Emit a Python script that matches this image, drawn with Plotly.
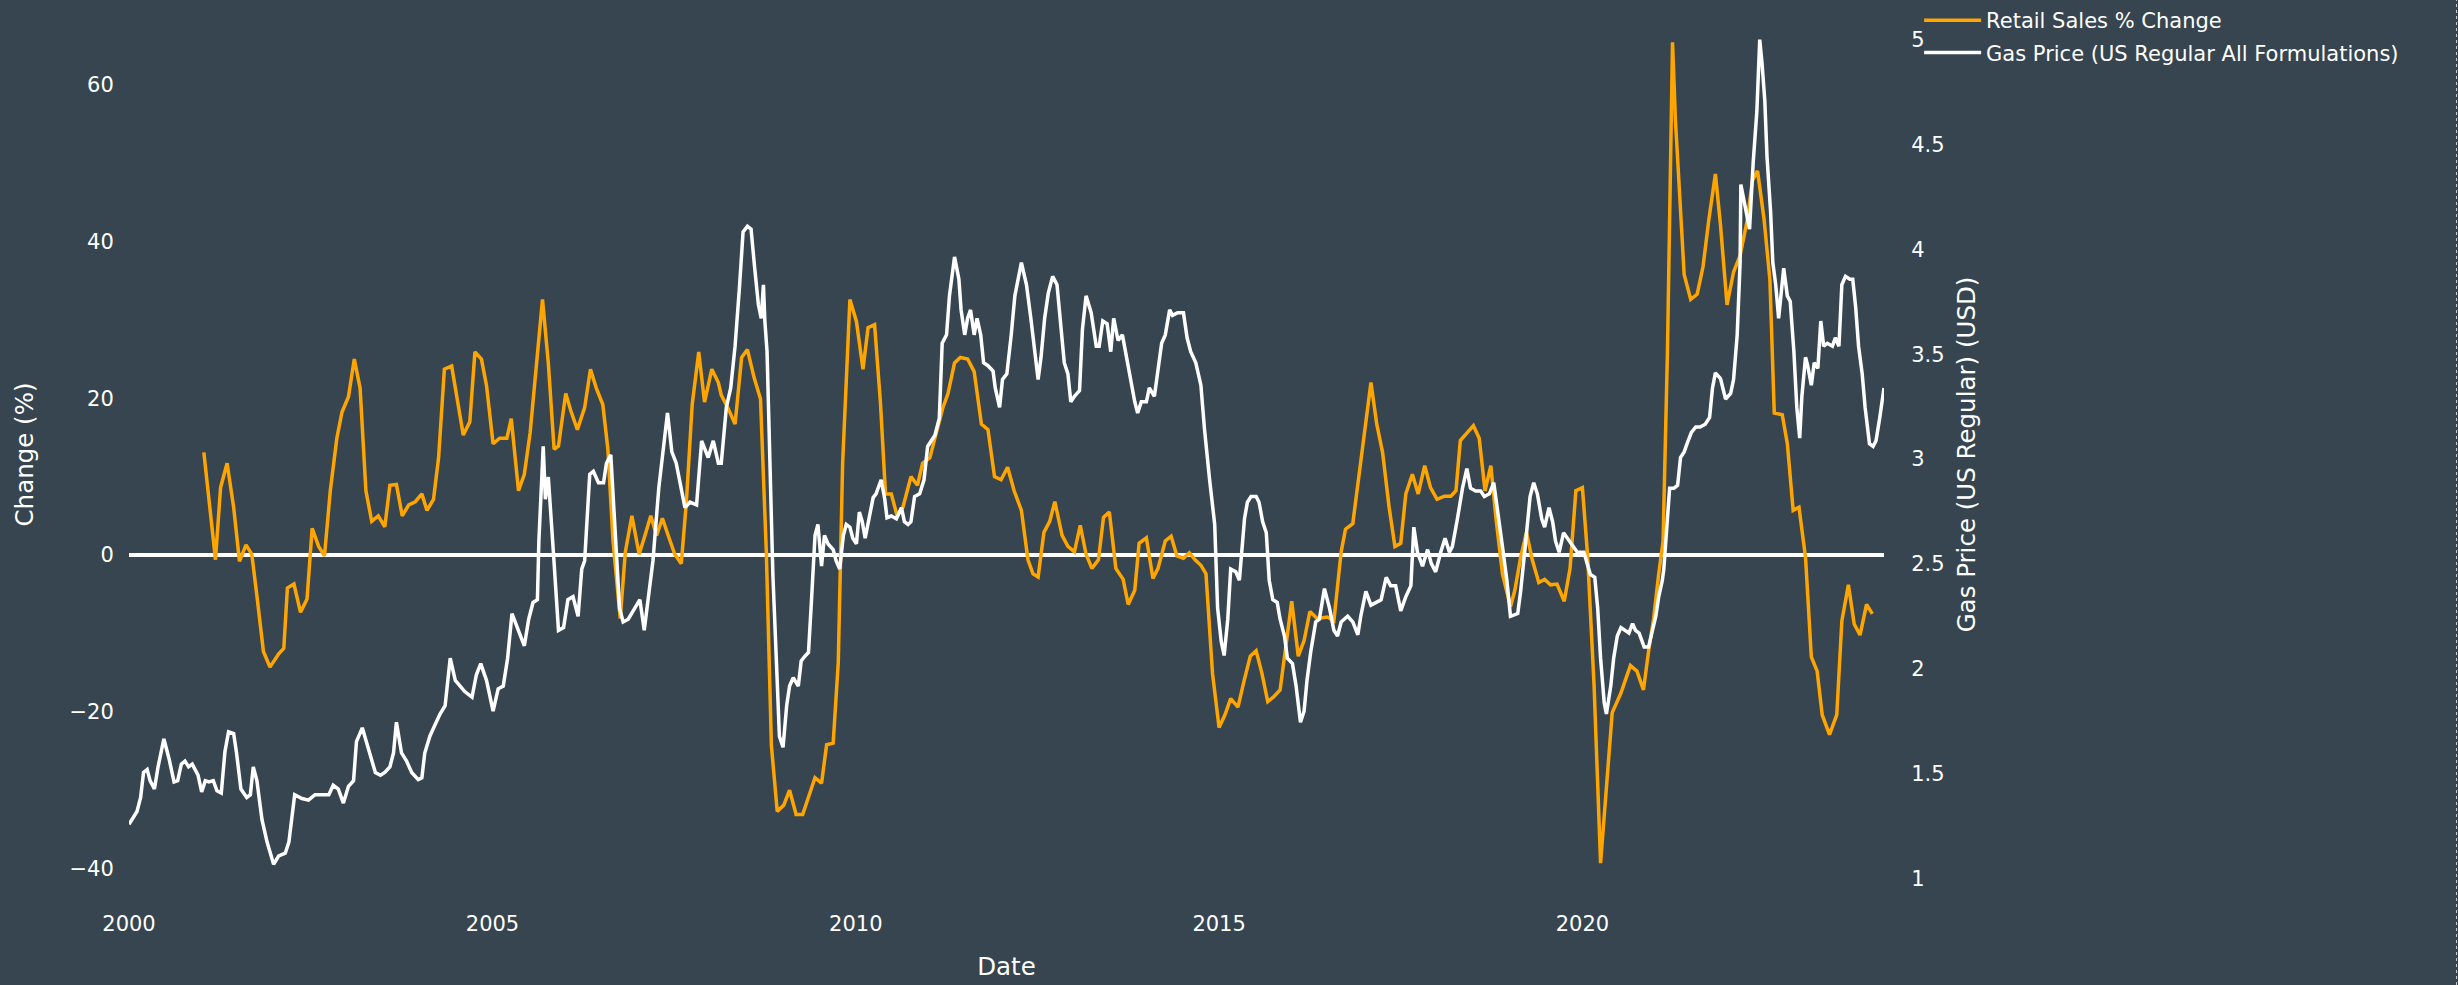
import pandas as pd
import plotly.graph_objects as go

# ---------------- data ----------------
retail_year = [
    2001.03, 2001.19, 2001.26, 2001.35, 2001.44, 2001.52, 2001.61, 2001.69, 2001.76, 2001.85, 2001.94,
    2002.06, 2002.13, 2002.18, 2002.27, 2002.36, 2002.45, 2002.52, 2002.61, 2002.69, 2002.77, 2002.86, 2002.93,
    2003.02, 2003.10, 2003.18, 2003.26, 2003.34, 2003.43, 2003.52, 2003.59, 2003.68, 2003.76, 2003.85, 2003.94,
    2004.03, 2004.10, 2004.19, 2004.26, 2004.34, 2004.44, 2004.52, 2004.60, 2004.69, 2004.76, 2004.85, 2004.92,
    2005.01, 2005.10, 2005.20, 2005.26, 2005.36, 2005.44, 2005.52, 2005.61, 2005.69, 2005.77, 2005.85, 2005.91,
    2006.01, 2006.08, 2006.17, 2006.27, 2006.35, 2006.43, 2006.52, 2006.59, 2006.66, 2006.76, 2006.83, 2006.92,
    2007.02, 2007.10, 2007.18, 2007.26, 2007.34, 2007.42, 2007.51, 2007.60, 2007.67, 2007.75, 2007.84, 2007.92,
    2008.02, 2008.11, 2008.15, 2008.24, 2008.34, 2008.43, 2008.51, 2008.60, 2008.69, 2008.77, 2008.84, 2008.92,
    2009.01, 2009.09, 2009.18, 2009.27, 2009.35, 2009.44, 2009.53, 2009.60, 2009.69, 2009.76, 2009.82, 2009.92,
    2010.01, 2010.10, 2010.17, 2010.26, 2010.34, 2010.41, 2010.49, 2010.57, 2010.65, 2010.76, 2010.85, 2010.92,
    2011.02, 2011.11, 2011.20, 2011.27, 2011.36, 2011.44, 2011.54, 2011.63, 2011.73, 2011.82, 2011.91,
    2012.00, 2012.09, 2012.18, 2012.28, 2012.37, 2012.44, 2012.51, 2012.59, 2012.67, 2012.74, 2012.84, 2012.92,
    2013.01, 2013.09, 2013.17, 2013.25, 2013.34, 2013.41, 2013.49, 2013.58, 2013.68, 2013.75, 2013.84, 2013.90,
    2014.00, 2014.09, 2014.16, 2014.26, 2014.34, 2014.42, 2014.51, 2014.59, 2014.67, 2014.75, 2014.82, 2014.91,
    2015.00, 2015.08, 2015.16, 2015.26, 2015.34, 2015.43, 2015.51, 2015.59, 2015.67, 2015.75, 2015.84, 2015.92,
    2016.00, 2016.09, 2016.17, 2016.25, 2016.35, 2016.49, 2016.58, 2016.68, 2016.74, 2016.84, 2016.91,
    2017.00, 2017.09, 2017.17, 2017.25, 2017.34, 2017.42, 2017.50, 2017.57, 2017.66, 2017.74, 2017.83, 2017.91,
    2018.00, 2018.10, 2018.19, 2018.26, 2018.32, 2018.42, 2018.50, 2018.58, 2018.66, 2018.74, 2018.81, 2018.90,
    2019.01, 2019.07, 2019.15, 2019.23, 2019.31, 2019.40, 2019.48, 2019.56, 2019.65, 2019.75, 2019.83, 2019.91,
    2020.00, 2020.07, 2020.16, 2020.25, 2020.32, 2020.41, 2020.53, 2020.66, 2020.75, 2020.84, 2020.91, 2020.98,
    2021.05, 2021.11, 2021.17, 2021.24, 2021.28, 2021.33, 2021.40, 2021.49, 2021.58, 2021.66, 2021.74, 2021.83,
    2021.90, 2021.99, 2022.08, 2022.17, 2022.27, 2022.34, 2022.41, 2022.50, 2022.58, 2022.64, 2022.75, 2022.82,
    2022.90, 2022.98, 2023.07, 2023.15, 2023.23, 2023.30, 2023.40, 2023.50, 2023.57, 2023.66, 2023.74, 2023.82,
    2023.91, 2023.99,
]
retail_change = [
    13.1, -0.6, 8.6, 11.7, 6.1, -0.8, 1.3, 0.1, -5.2, -12.3, -14.3,
    -12.6, -11.9, -4.2, -3.7, -7.3, -5.6, 3.4, 1.1, -0.1, 8.2, 14.9, 18.2,
    20.2, 25.0, 21.3, 8.2, 4.3, 5.0, 3.6, 8.9, 9.0, 5.0, 6.4, 6.8,
    7.8, 5.7, 7.1, 12.4, 23.7, 24.1, 19.5, 15.3, 17.0, 25.9, 25.0, 21.6,
    14.2, 14.9, 14.9, 17.4, 8.2, 10.3, 15.6, 25.2, 32.6, 24.5, 13.5, 13.9,
    20.6, 18.4, 16.0, 18.8, 23.7, 21.3, 19.2, 13.5, 1.8, -8.1, 0.4, 5.0,
    0.1, 2.5, 5.0, 2.5, 4.7, 2.5, 0.1, -1.1, 6.8, 19.2, 25.9, 19.5,
    23.7, 22.0, 20.4, 18.8, 16.7, 25.2, 26.2, 22.7, 19.9, 0.4, -24.3, -32.7,
    -31.9, -30.0, -33.1, -33.1, -31.0, -28.4, -29.1, -24.2, -24.0, -13.7, 11.7, 32.6,
    29.8, 23.7, 29.0, 29.4, 19.5, 7.8, 7.8, 5.0, 6.1, 10.0, 8.9, 11.7,
    12.4, 15.6, 18.8, 20.6, 24.5, 25.2, 25.0, 23.4, 16.7, 16.0, 10.0,
    9.6, 11.2, 8.2, 5.7, -0.6, -2.4, -2.8, 2.9, 4.3, 6.8, 2.5, 1.1,
    0.4, 3.8, 0.1, -1.7, -0.6, 4.8, 5.5, -1.7, -3.1, -6.3, -4.5, 1.5,
    2.2, -3.0, -1.7, 1.8, 2.4, -0.1, -0.4, 0.3, -0.6, -1.3, -2.4, -15.1,
    -22.0, -20.4, -18.3, -19.4, -16.2, -12.9, -12.2, -15.1, -18.7, -18.1, -17.2, -11.2,
    -5.9, -12.9, -10.9, -7.2, -8.1, -7.9, -8.4, 0.4, 3.3, 4.0, 8.9,
    16.0, 22.0, 16.7, 13.1, 6.1, 1.1, 1.5, 7.8, 10.3, 7.8, 11.4, 8.6,
    7.1, 7.5, 7.5, 8.2, 14.6, 15.6, 16.5, 14.9, 8.2, 11.4, 4.7, -2.4,
    -6.6, -4.5, -0.3, 2.9, -0.6, -3.5, -3.1, -3.8, -3.7, -5.9, -1.7, 8.2,
    8.6, 0.1, -16.5, -39.3, -30.7, -20.1, -17.6, -14.1, -14.8, -17.2, -12.3, -8.1,
    -2.4, 1.8, 25.9, 65.4, 55.5, 47.7, 35.8, 32.6, 33.3, 36.8, 42.8, 48.6,
    42.1, 31.9, 36.1, 38.2, 42.8, 47.8, 49.0, 42.8, 35.1, 18.1, 17.9, 14.2,
    5.7, 6.1, -0.3, -13.0, -14.8, -20.4, -22.9, -20.4, -8.4, -3.8, -8.8, -10.2,
    -6.3, -7.5,
]

gas_year = [
    2000.00, 2000.11, 2000.16, 2000.20, 2000.25, 2000.29, 2000.35, 2000.40, 2000.48, 2000.55, 2000.62, 2000.67,
    2000.72, 2000.77, 2000.82, 2000.87, 2000.95, 2001.00, 2001.05, 2001.10, 2001.16, 2001.21, 2001.27, 2001.32,
    2001.37, 2001.44, 2001.48, 2001.54, 2001.62, 2001.67, 2001.71, 2001.76, 2001.83, 2001.90, 2001.99, 2002.06,
    2002.15, 2002.20, 2002.28, 2002.38, 2002.47, 2002.56, 2002.65, 2002.75, 2002.81, 2002.88, 2002.95, 2003.02,
    2003.09, 2003.13, 2003.21, 2003.30, 2003.39, 2003.46, 2003.52, 2003.59, 2003.64, 2003.68, 2003.75, 2003.82,
    2003.89, 2003.98,
    2004.03, 2004.07, 2004.14, 2004.21, 2004.28, 2004.35, 2004.42, 2004.49, 2004.56, 2004.62, 2004.72, 2004.78,
    2004.84, 2004.92, 2005.01, 2005.08, 2005.15, 2005.21, 2005.27, 2005.36, 2005.44, 2005.50, 2005.56, 2005.62,
    2005.64, 2005.70, 2005.73, 2005.77, 2005.79, 2005.84, 2005.91, 2005.98, 2006.04, 2006.11, 2006.18, 2006.23,
    2006.27, 2006.34, 2006.39, 2006.46, 2006.53, 2006.57, 2006.63, 2006.69, 2006.75, 2006.80, 2006.87, 2006.96,
    2007.03, 2007.09, 2007.14, 2007.21, 2007.29, 2007.35, 2007.41, 2007.47, 2007.53, 2007.59, 2007.65, 2007.72,
    2007.81, 2007.88, 2007.97, 2008.04, 2008.11,
    2008.15, 2008.22, 2008.28, 2008.34, 2008.40, 2008.45, 2008.51, 2008.56, 2008.61, 2008.66, 2008.70, 2008.73,
    2008.75, 2008.78, 2008.82, 2008.86, 2008.91, 2008.95, 2009.00, 2009.05, 2009.09, 2009.14, 2009.21, 2009.25,
    2009.31, 2009.35, 2009.39, 2009.44, 2009.48, 2009.53, 2009.57, 2009.62, 2009.69, 2009.73, 2009.78, 2009.83,
    2009.87, 2009.92, 2009.96, 2010.01, 2010.05, 2010.09, 2010.13, 2010.18, 2010.24, 2010.28, 2010.35, 2010.40,
    2010.43, 2010.49, 2010.56, 2010.63, 2010.67, 2010.72, 2010.76, 2010.81, 2010.88, 2010.94, 2010.99, 2011.04,
    2011.09, 2011.15, 2011.19, 2011.25, 2011.29, 2011.36, 2011.42, 2011.45, 2011.50, 2011.54, 2011.58, 2011.63,
    2011.67, 2011.72, 2011.76, 2011.82, 2011.89, 2011.92, 2011.98, 2012.02, 2012.08, 2012.14, 2012.19,
    2012.28, 2012.35, 2012.41, 2012.48, 2012.51, 2012.55, 2012.60, 2012.65, 2012.71, 2012.77, 2012.83, 2012.87,
    2012.92, 2012.96, 2013.01, 2013.08, 2013.12, 2013.17, 2013.24, 2013.31, 2013.35, 2013.40, 2013.46, 2013.51,
    2013.55, 2013.61, 2013.67, 2013.74, 2013.79, 2013.84, 2013.88, 2013.93, 2014.00, 2014.04, 2014.11, 2014.17,
    2014.21, 2014.26, 2014.32, 2014.36, 2014.43, 2014.51, 2014.56, 2014.61, 2014.68, 2014.75, 2014.80, 2014.87,
    2014.94, 2014.98, 2015.03, 2015.07, 2015.12, 2015.16, 2015.23, 2015.28, 2015.35, 2015.39, 2015.44, 2015.51,
    2015.55, 2015.60, 2015.65, 2015.69, 2015.74, 2015.80, 2015.84, 2015.90, 2015.94, 2016.01, 2016.06, 2016.12,
    2016.17, 2016.21, 2016.26, 2016.33, 2016.38,
    2016.45, 2016.52, 2016.58, 2016.63, 2016.68, 2016.77, 2016.84, 2016.91, 2016.95, 2017.02, 2017.09, 2017.16,
    2017.23, 2017.30, 2017.36, 2017.43, 2017.50, 2017.57, 2017.64, 2017.68, 2017.73, 2017.80, 2017.87, 2017.92,
    2017.98, 2018.05, 2018.11, 2018.17, 2018.21, 2018.28, 2018.35, 2018.41, 2018.46, 2018.53, 2018.60, 2018.65,
    2018.72, 2018.78, 2018.83, 2018.90, 2018.96, 2019.01, 2019.11, 2019.15, 2019.22, 2019.28, 2019.33, 2019.38,
    2019.44, 2019.48, 2019.54, 2019.59, 2019.63, 2019.68, 2019.74, 2019.82, 2019.88, 2019.93, 2020.02, 2020.07,
    2020.11, 2020.17, 2020.21, 2020.25, 2020.30, 2020.33, 2020.39, 2020.43, 2020.48,
    2020.53, 2020.59, 2020.64, 2020.69, 2020.73, 2020.78, 2020.85, 2020.91, 2020.96, 2021.01, 2021.05, 2021.10,
    2021.12, 2021.17, 2021.20, 2021.26, 2021.31, 2021.35, 2021.40, 2021.44, 2021.50, 2021.56, 2021.62, 2021.69,
    2021.75, 2021.79, 2021.83, 2021.90, 2021.97, 2022.04, 2022.08, 2022.13, 2022.17, 2022.18, 2022.23, 2022.27,
    2022.30, 2022.35, 2022.40, 2022.44, 2022.47, 2022.51, 2022.54, 2022.59, 2022.62, 2022.66, 2022.70, 2022.73,
    2022.77, 2022.82, 2022.86, 2022.91, 2022.95, 2022.99, 2023.02, 2023.07, 2023.10, 2023.15, 2023.19, 2023.24,
    2023.28, 2023.32, 2023.37, 2023.44, 2023.48, 2023.53, 2023.57, 2023.62, 2023.68, 2023.72, 2023.76, 2023.80,
    2023.85, 2023.89, 2023.95, 2024.00, 2024.04, 2024.09, 2024.15,
]
gas_price = [
    1.258, 1.319, 1.386, 1.505, 1.519, 1.466, 1.426, 1.532, 1.665, 1.572, 1.460, 1.466,
    1.545, 1.559, 1.532, 1.545, 1.492, 1.412, 1.466, 1.460, 1.466, 1.418, 1.407, 1.604,
    1.699, 1.691, 1.598, 1.426, 1.386, 1.399, 1.532, 1.466, 1.280, 1.173, 1.067, 1.107,
    1.120, 1.173, 1.399, 1.381, 1.373, 1.399, 1.399, 1.399, 1.444, 1.426, 1.359, 1.439,
    1.466, 1.652, 1.718, 1.612, 1.505, 1.492, 1.505, 1.532, 1.598, 1.745, 1.598, 1.559,
    1.505, 1.471,
    1.479, 1.598, 1.678, 1.731, 1.784, 1.824, 2.050, 1.944, 1.917, 1.891, 1.864, 1.971,
    2.024, 1.944, 1.798, 1.904, 1.917, 2.050, 2.263, 2.183, 2.109, 2.236, 2.316, 2.329,
    2.608, 3.060, 2.808, 2.914, 2.821, 2.555, 2.183, 2.196, 2.329, 2.343, 2.250, 2.475,
    2.515, 2.927, 2.941, 2.887, 2.887, 2.980, 3.020, 2.661, 2.289, 2.223, 2.236, 2.289,
    2.329, 2.183, 2.316, 2.515, 2.861, 3.034, 3.220, 3.034, 2.980, 2.874, 2.768, 2.794,
    2.781, 3.087, 3.007, 3.087, 2.980,
    2.980, 3.246, 3.339, 3.538, 3.817, 4.083, 4.110, 4.096, 3.910, 3.738, 3.671, 3.831,
    3.658, 3.512, 2.980, 2.449, 2.024, 1.678, 1.625, 1.824, 1.917, 1.957, 1.917, 2.037,
    2.063, 2.077, 2.316, 2.635, 2.688, 2.489, 2.635, 2.595, 2.568, 2.515, 2.475, 2.635,
    2.688, 2.675, 2.622, 2.595, 2.747, 2.701, 2.622, 2.715, 2.816, 2.834, 2.901, 2.808,
    2.720, 2.728, 2.715, 2.768, 2.701, 2.688, 2.701, 2.821, 2.834, 2.901, 3.060, 3.087,
    3.113, 3.193, 3.552, 3.592, 3.778, 3.964, 3.857, 3.711, 3.592, 3.671, 3.711, 3.592,
    3.671, 3.592, 3.459, 3.445, 3.419, 3.339, 3.246, 3.379, 3.406, 3.592, 3.778,
    3.937, 3.831, 3.671, 3.472, 3.379, 3.485, 3.671, 3.791, 3.871, 3.831, 3.618, 3.459,
    3.406, 3.273, 3.299, 3.326, 3.618, 3.778, 3.698, 3.538, 3.538, 3.658, 3.645, 3.512,
    3.671, 3.565, 3.592, 3.459, 3.352, 3.273, 3.219, 3.273, 3.273, 3.339, 3.299, 3.445,
    3.552, 3.592, 3.711, 3.685, 3.698, 3.698, 3.578, 3.512, 3.459, 3.352, 3.140, 2.901,
    2.688, 2.289, 2.130, 2.063, 2.236, 2.475, 2.462, 2.422, 2.715, 2.794, 2.821, 2.821,
    2.794, 2.701, 2.648, 2.422, 2.329, 2.316, 2.236, 2.156, 2.050, 2.024, 1.917, 1.745,
    1.798, 1.944, 2.077, 2.223, 2.236,
    2.382, 2.289, 2.183, 2.156, 2.223, 2.250, 2.223, 2.162, 2.250, 2.369, 2.303, 2.316,
    2.329, 2.436, 2.396, 2.396, 2.276, 2.343, 2.396, 2.675, 2.555, 2.489, 2.568, 2.502,
    2.462, 2.555, 2.622, 2.555, 2.582, 2.715, 2.861, 2.954, 2.861, 2.847, 2.847, 2.821,
    2.834, 2.887, 2.768, 2.582, 2.422, 2.250, 2.263, 2.369, 2.608, 2.821, 2.887, 2.834,
    2.715, 2.675, 2.768, 2.701, 2.608, 2.555, 2.648, 2.608, 2.582, 2.555, 2.555, 2.489,
    2.449, 2.436, 2.289, 2.050, 1.838, 1.784, 1.917, 2.050, 2.156,
    2.196, 2.183, 2.170, 2.215, 2.183, 2.170, 2.103, 2.103, 2.183, 2.250, 2.343, 2.422,
    2.475, 2.715, 2.861, 2.861, 2.874, 3.007, 3.034, 3.073, 3.127, 3.153, 3.153, 3.166,
    3.198, 3.339, 3.411, 3.384, 3.286, 3.313, 3.379, 3.592, 3.937, 4.309, 4.229, 4.150,
    4.096, 4.415, 4.655, 5.000, 4.894, 4.708, 4.442, 4.176, 3.937, 3.831, 3.671, 3.778,
    3.910, 3.778, 3.751, 3.512, 3.246, 3.100, 3.299, 3.485, 3.445, 3.352, 3.459, 3.432,
    3.658, 3.538, 3.552, 3.538, 3.578, 3.538, 3.831, 3.871, 3.857, 3.857, 3.724, 3.538,
    3.406, 3.246, 3.073, 3.060, 3.087, 3.193, 3.339,
]

x_tick_years = ["2000-01-01", "2005-01-01", "2010-01-01", "2015-01-01", "2020-01-01"]
x_tick_text = ["2000", "2005", "2010", "2015", "2020"]


def to_dates(years):
    base = pd.Timestamp("2000-01-01")
    return [base + pd.to_timedelta((y - 2000) * 365.25, unit="D") for y in years]


BG = "#36454F"
FONT = "DejaVu Sans"
FS = 21
TFS = 24.5

fig = go.Figure()
fig.add_trace(go.Scatter(
    x=to_dates(retail_year), y=retail_change, mode="lines",
    name="Retail Sales % Change", line=dict(color="#FFA500", width=3.5),
    legendgroup="a", yaxis="y",
))
fig.add_trace(go.Scatter(
    x=to_dates(gas_year), y=gas_price, mode="lines",
    name="Gas Price (US Regular All Formulations)", line=dict(color="#FFFFFF", width=3.5),
    legendgroup="b", yaxis="y2",
))

fig.update_layout(
    width=2458, height=985,
    paper_bgcolor=BG, plot_bgcolor=BG,
    font=dict(family=FONT, size=FS, color="#FFFFFF"),
    margin=dict(l=129, r=574, t=0, b=76, autoexpand=False),
    showlegend=True,
    legend=dict(x=1.02, y=1, xanchor="left", yanchor="top", bgcolor="rgba(0,0,0,0)",
                font=dict(family=FONT, size=FS, color="#FFFFFF"), itemwidth=57,
                tracegroupgap=2),
    xaxis=dict(
        title=dict(text="Date", font=dict(size=TFS), standoff=22),
        tickvals=x_tick_years, ticktext=x_tick_text,
        showgrid=False, zeroline=False, showline=False,
        ticks="",
    ),
    yaxis=dict(
        title=dict(text="Change (%)", font=dict(size=TFS), standoff=28),
        range=[-45.15, 70.8], dtick=20, tick0=0,
        showgrid=False, zeroline=True, zerolinecolor="#FFFFFF", zerolinewidth=3.5,
        showline=False, ticks="outside", ticklen=10, tickcolor="rgba(0,0,0,0)",
    ),
    yaxis2=dict(
        title=dict(text="Gas Price (US Regular) (USD)", font=dict(size=TFS), standoff=14),
        range=[0.854, 5.189], dtick=0.5, tick0=1,
        overlaying="y", side="right",
        showgrid=False, zeroline=False, showline=False,
        ticks="outside", ticklen=22, tickcolor="rgba(0,0,0,0)",
    ),
    shapes=[dict(type="line", xref="paper", yref="paper",
                 x0=(2456.5 - 129) / 1755, x1=(2456.5 - 129) / 1755,
                 y0=-76 / 909, y1=1.0,
                 line=dict(color="#C8CDD0", width=1, dash="dot"))],
)

fig.write_html(
    "out.html",
    config={"displayModeBar": False},
    post_script="document.body.style.margin='0';document.body.style.overflow='hidden';",
)
